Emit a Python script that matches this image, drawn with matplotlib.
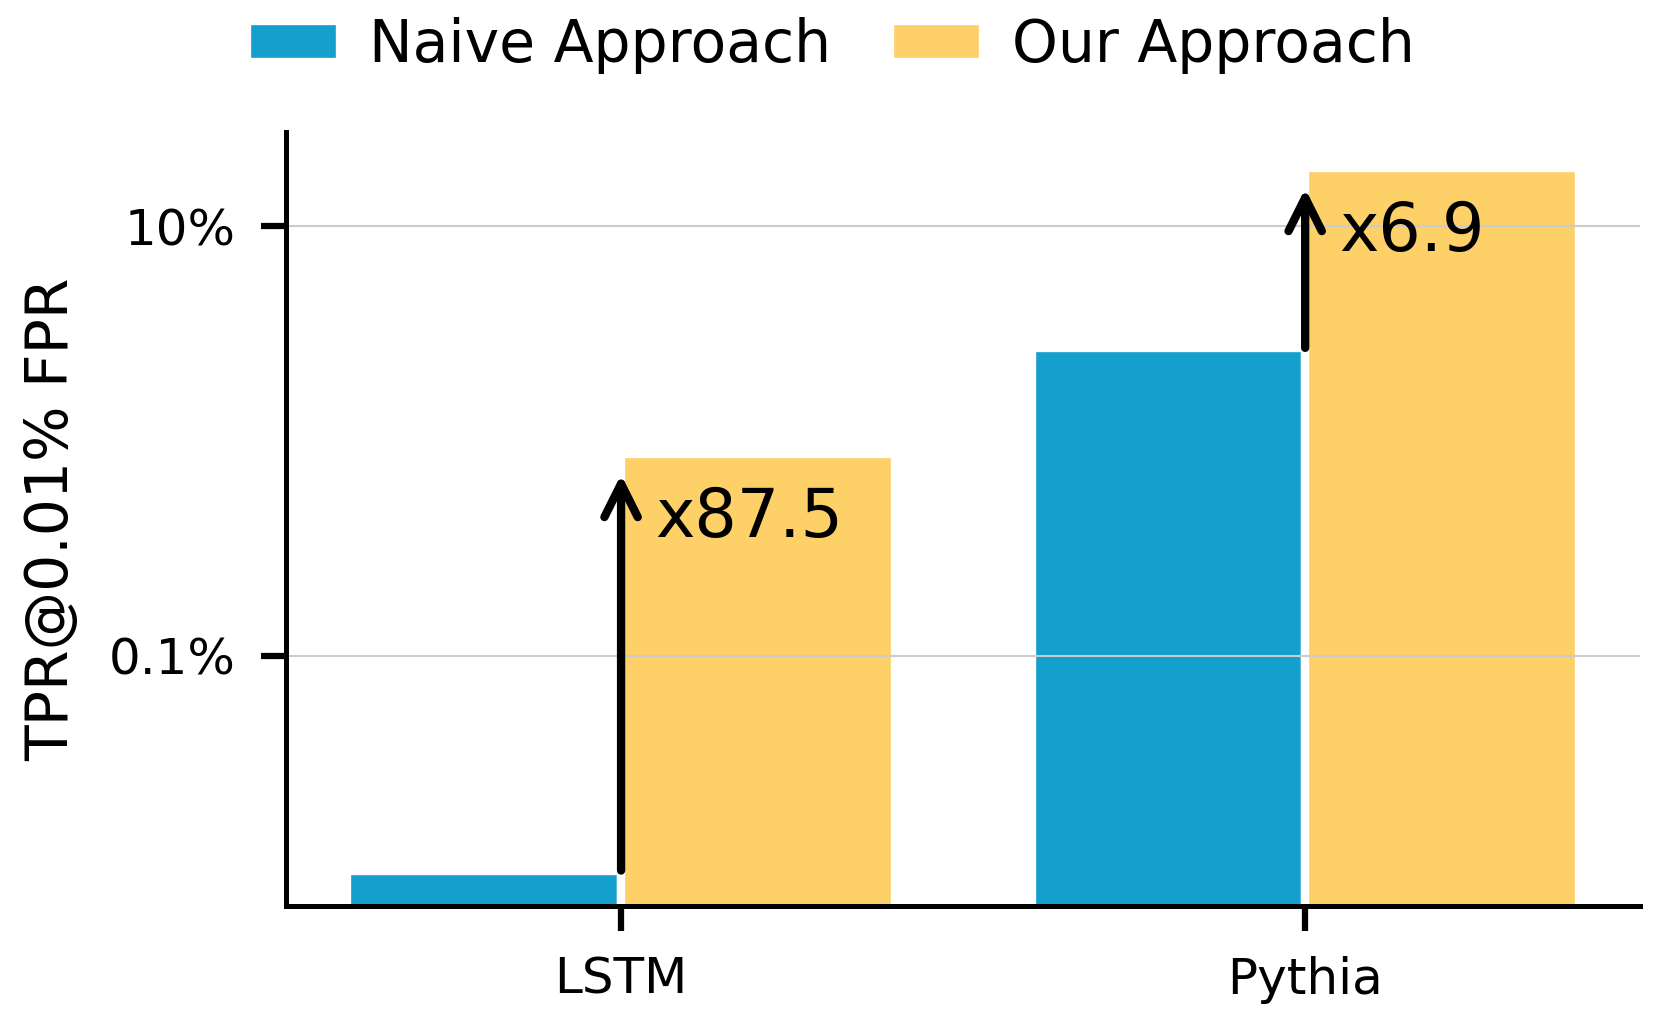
import matplotlib
matplotlib.use("Agg")
import matplotlib.pyplot as plt
import numpy as np

# datos (TPR en %)
modelos = ["LSTM", "Pythia"]
ingenuo = [0.01, 2.72]
nuestro = [0.875, 18.8]
mejoras = ["x87.5", "x6.9"]
series = ["Naive Approach", "Our Approach"]

azul = "#149fcd"
amarillo = "#fdd068"

plt.rcParams["font.family"] = "DejaVu Sans"

fig = plt.figure(figsize=(1662 / 300, 1027 / 300), dpi=300)
ax = fig.add_axes([0.172, 0.118, 0.815, 0.753])

x = np.arange(len(modelos))
ancho = 0.4
b1 = ax.bar(x - ancho / 2, ingenuo, ancho, color=azul, edgecolor="white",
            linewidth=2, label=series[0])
b2 = ax.bar(x + ancho / 2, nuestro, ancho, color=amarillo, edgecolor="white",
            linewidth=2, label=series[1])

ax.set_yscale("log")
ax.set_ylim(0.00685, 27.4)
ax.set_yticks([0.1, 10])
ax.set_yticklabels(["0.1%", "10%"])
ax.yaxis.set_minor_locator(matplotlib.ticker.NullLocator())
ax.set_xticks(x)
ax.set_xticklabels(modelos)
ax.grid(axis="y", color="#cccccc", linewidth=0.5)

for i in range(len(modelos)):
    ax.annotate("", xy=(x[i], nuestro[i]), xytext=(x[i], ingenuo[i]),
                arrowprops=dict(arrowstyle="->", lw=2, color="black",
                                mutation_scale=20, shrinkA=0, shrinkB=5,
                                capstyle="round", joinstyle="round"))
    ax.text(x[i] + 0.05, nuestro[i] * 0.5, mejoras[i], fontsize=16,
            ha="left", va="center")

ax.set_ylabel("TPR@0.01% FPR", fontsize=14, labelpad=7)
ax.tick_params(axis="both", labelsize=12, length=6, width=1.5, pad=6)
for lado in ["top", "right"]:
    ax.spines[lado].set_visible(False)
for lado in ["left", "bottom"]:
    ax.spines[lado].set_linewidth(1.2)

fig.legend(handles=[b1, b2], loc="center", bbox_to_anchor=(0.5, 1 - 45 / 1027),
           ncol=2, frameon=False, fontsize=14, handlelength=1.6,
           handletextpad=0.5, columnspacing=1.0)

fig.savefig("out.png", dpi=300)
